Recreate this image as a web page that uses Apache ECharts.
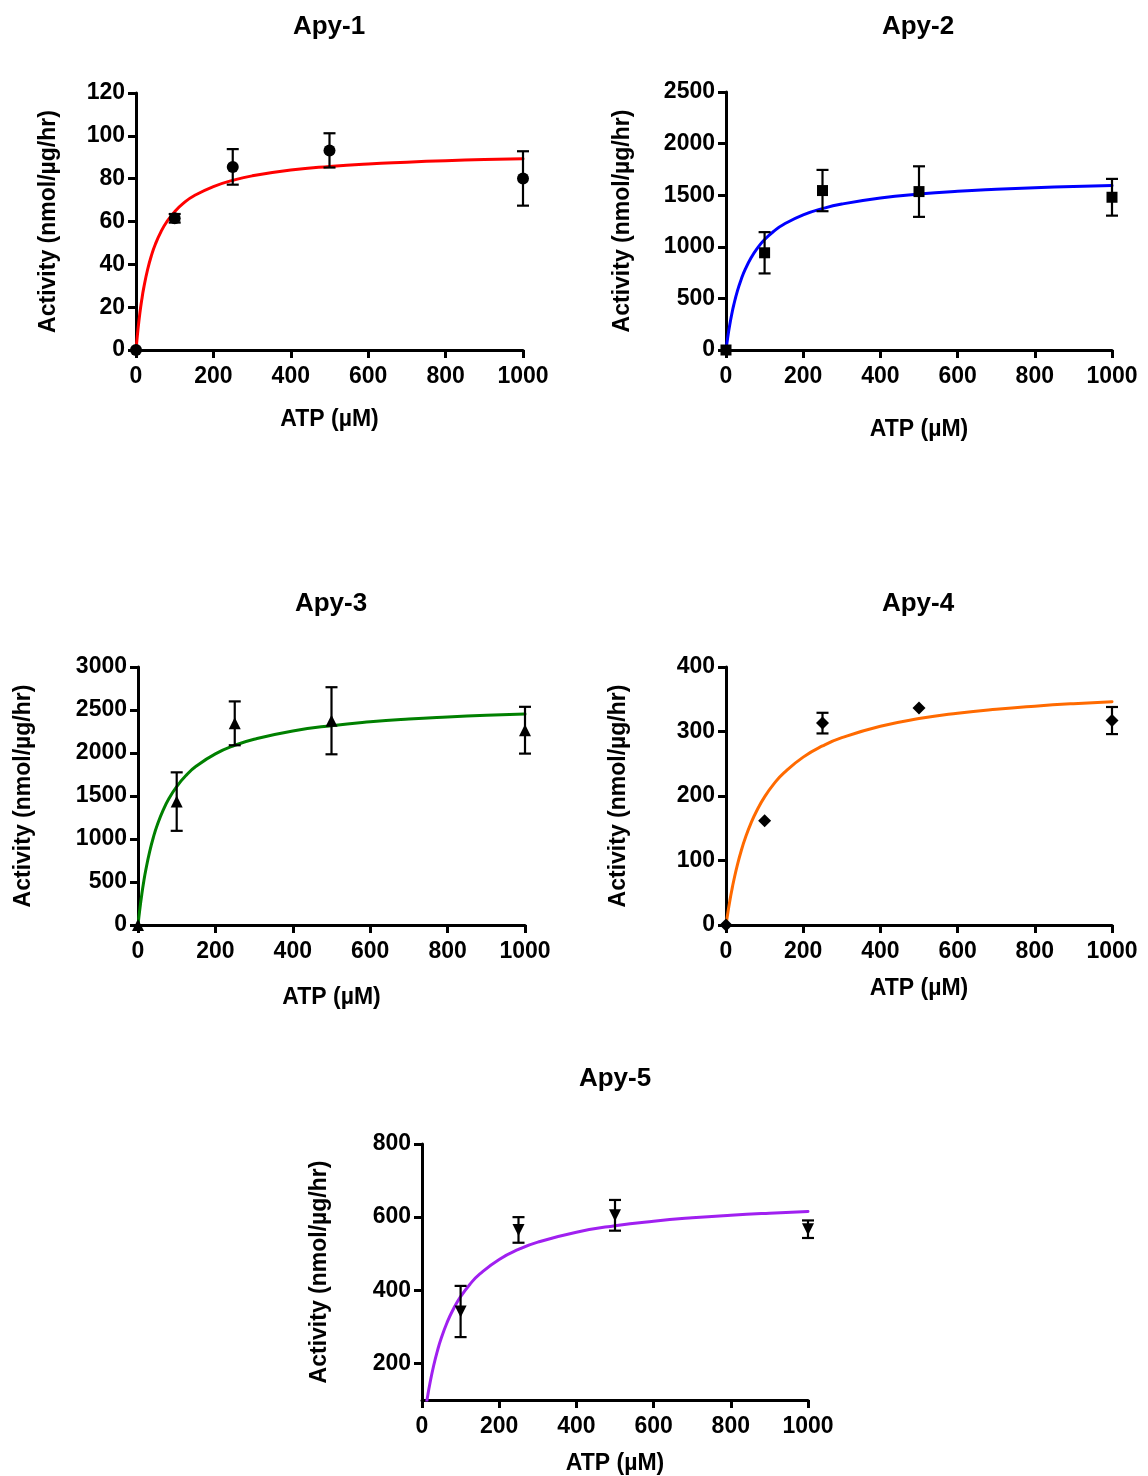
<!DOCTYPE html>
<html><head><meta charset="utf-8">
<script src="https://cdn.jsdelivr.net/npm/echarts@6/dist/echarts.min.js"></script>
<style>html,body{margin:0;padding:0;background:#fff}#c{width:1148px;height:1476px}</style>
</head><body><div id="c"></div>
<script>
// ---- data ----
const titles = ['Apy-1', 'Apy-2', 'Apy-3', 'Apy-4', 'Apy-5'];
const xTicks = [0, 200, 400, 600, 800, 1000];
const conc = [0, 100, 250, 500, 1000];

const apy1Mean = [0, 61.5, 85.5, 93.2, 80.1];
const apy1Err  = [0, 2, 8.3, 8, 12.7];
const apy2Mean = [0, 942, 1545, 1535, 1480];
const apy2Err  = [0, 200, 200, 245, 178];
const apy3Mean = [0, 1435, 2345, 2375, 2265];
const apy3Err  = [0, 340, 255, 390, 272];
const apy4Mean = [0, 161.5, 313, 336.4, 317];
const apy4Err  = [0, 0, 16, 0, 21];
const apy5Conc = [100, 250, 500, 1000];
const apy5Mean = [342, 565, 605, 567];
const apy5Err  = [70, 35, 42, 24];

// fitted curves
const fitX    = [0, 5, 10, 15, 20, 30, 40, 50, 65, 80, 100, 125, 150, 200, 250, 300, 400, 500, 600, 700, 800, 900, 1000];
const apy1Fit = [0, 9.4, 17.2, 23.6, 29.0, 37.6, 44.2, 49.4, 55.4, 60.0, 64.6, 68.9, 72.0, 76.3, 79.2, 81.3, 84.0, 85.7, 86.9, 87.7, 88.4, 88.9, 89.3];
const apy2Fit = [0, 135, 250, 349, 435, 578, 691, 784, 894, 980, 1070, 1154, 1218, 1309, 1370, 1414, 1473, 1511, 1538, 1557, 1572, 1584, 1593];
const apy3Fit = [0, 195, 363, 509, 637, 851, 1024, 1165, 1335, 1470, 1610, 1743, 1845, 1990, 2089, 2160, 2256, 2318, 2362, 2394, 2418, 2438, 2453];
const apy4Fit = [0, 19.9, 37.8, 53.9, 68.6, 94.4, 116.2, 134.8, 158.3, 177.6, 198.7, 219.5, 235.9, 260.3, 277.6, 290.4, 308.2, 320, 328.3, 334.5, 339.3, 343.2, 346.3];
const apy5Fit = [0, 42.5, 79.9, 113.0, 142.6, 193.0, 234.5, 269.3, 311.9, 346.1, 382.5, 417.6, 444.9, 484.4, 511.6, 531.6, 558.8, 576.5, 588.9, 598.2, 605.3, 610.9, 615.5];

const yTicks1 = [0, 20, 40, 60, 80, 100, 120];
const yTicks2 = [0, 500, 1000, 1500, 2000, 2500];
const yTicks3 = [0, 500, 1000, 1500, 2000, 2500, 3000];
const yTicks4 = [0, 100, 200, 300, 400];
const yTicks5 = [200, 400, 600, 800];

// ---- layout ----
const FONT = '"Liberation Sans", Arial, sans-serif';
const panels = [
  {x0:136, x1:523, y0:93,   y1:350,  ymin:0,   ymax:120,  yt:yTicks1, mean:apy1Mean, err:apy1Err, cx:conc,     fit:apy1Fit, color:'#FF0000', sym:'circle',   symSize:12, rot:0,   tx:329, ty:12,   yGap:76,  xGap:58},
  {x0:726, x1:1112, y0:92,  y1:350,  ymin:0,   ymax:2500, yt:yTicks2, mean:apy2Mean, err:apy2Err, cx:conc,     fit:apy2Fit, color:'#0000FF', sym:'rect',     symSize:11, rot:0,   tx:918, ty:12,   yGap:92,  xGap:68},
  {x0:138, x1:525, y0:667,  y1:925,  ymin:0,   ymax:3000, yt:yTicks3, mean:apy3Mean, err:apy3Err, cx:conc,     fit:apy3Fit, color:'#008000', sym:'triangle', symSize:12, rot:0,   tx:331, ty:589,  yGap:103, xGap:61},
  {x0:726, x1:1112, y0:667, y1:925,  ymin:0,   ymax:400,  yt:yTicks4, mean:apy4Mean, err:apy4Err, cx:conc,     fit:apy4Fit, color:'#FF6A00', sym:'diamond',  symSize:13, rot:0,   tx:918, ty:589,  yGap:96,  xGap:52},
  {x0:422, x1:808, y0:1144, y1:1401, ymin:100, ymax:800,  yt:yTicks5, mean:apy5Mean, err:apy5Err, cx:apy5Conc, fit:apy5Fit, color:'#A020F0', sym:'triangle', symSize:12, rot:180, tx:615, ty:1064, yGap:91,  xGap:52}
];

function errRender(params, api) {
  const x = api.value(0), lo = api.value(1), hi = api.value(2);
  const a = api.coord([x, lo]), b = api.coord([x, hi]);
  const cw = 6, st = {stroke:'#000', lineWidth:2.2};
  return {type:'group', children:[
    {type:'line', shape:{x1:a[0], y1:a[1], x2:b[0], y2:b[1]}, style:st},
    {type:'line', shape:{x1:a[0]-cw, y1:a[1], x2:a[0]+cw, y2:a[1]}, style:st},
    {type:'line', shape:{x1:b[0]-cw, y1:b[1], x2:b[0]+cw, y2:b[1]}, style:st}
  ]};
}

const option = {
  backgroundColor:'#fff', animation:false,
  title:[], grid:[], xAxis:[], yAxis:[], series:[]
};
const axisLine = {show:true, onZero:false, lineStyle:{color:'#000', width:3}};
const plain = v => String(v);
panels.forEach((p, i) => {
  option.title.push({text:titles[i], left:p.tx, top:p.ty + 2, textAlign:'center', padding:0,
    textStyle:{fontFamily:FONT, fontWeight:'bold', fontSize:26, color:'#000'}});
  option.grid.push({left:p.x0, top:p.y0, width:p.x1-p.x0, height:p.y1-p.y0, containLabel:false});
  option.xAxis.push({type:'value', gridIndex:i, min:0, max:1000, interval:200,
    name:'ATP (µM)', nameLocation:'middle', nameGap:p.xGap,
    nameTextStyle:{fontFamily:FONT, fontWeight:'bold', fontSize:23, color:'#000'},
    axisLine:axisLine, splitLine:{show:false},
    axisTick:{show:true, length:8, lineStyle:{color:'#000', width:3}, customValues:xTicks},
    axisLabel:{fontFamily:FONT, fontWeight:'bold', fontSize:23, color:'#000', margin:15, customValues:xTicks, formatter:plain}});
  option.yAxis.push({type:'value', gridIndex:i, min:p.ymin, max:p.ymax,
    name:'Activity (nmol/µg/hr)', nameLocation:'middle', nameGap:p.yGap,
    nameTextStyle:{fontFamily:FONT, fontWeight:'bold', fontSize:23, color:'#000'},
    axisLine:axisLine, splitLine:{show:false},
    axisTick:{show:true, length:8, lineStyle:{color:'#000', width:3}, customValues:p.yt},
    axisLabel:{fontFamily:FONT, fontWeight:'bold', fontSize:23, color:'#000', margin:11, customValues:p.yt, formatter:plain}});
  option.series.push({type:'line', xAxisIndex:i, yAxisIndex:i, clip:true,
    data:fitX.map((x, k) => [x, p.fit[k]]), showSymbol:false, smooth:0.5,
    lineStyle:{color:p.color, width:3, join:'round', cap:'round'}, z:2});
  const eb = [];
  p.cx.forEach((x, k) => { if (p.err[k] > 0) eb.push([x, p.mean[k]-p.err[k], p.mean[k]+p.err[k]]); });
  option.series.push({type:'custom', xAxisIndex:i, yAxisIndex:i, renderItem:errRender,
    data:eb, z:3, clip:false});
  option.series.push({type:'scatter', xAxisIndex:i, yAxisIndex:i, clip:false,
    data:p.cx.map((x, k) => [x, p.mean[k]]), symbol:p.sym, symbolSize:p.symSize, symbolRotate:p.rot,
    itemStyle:{color:'#000', opacity:1}, z:4});
});
const chart = echarts.init(document.getElementById('c'), null, {renderer:'canvas'});
chart.setOption(option);
</script></body></html>
